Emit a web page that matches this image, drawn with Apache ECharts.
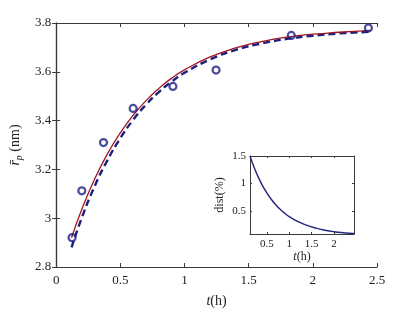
<!DOCTYPE html>
<html>
<head>
<meta charset="utf-8">
<script src="https://cdn.jsdelivr.net/npm/echarts@6/dist/echarts.min.js"></script>
<style>html,body{margin:0;padding:0;background:#fff}#c{width:417px;height:313px}</style>
</head>
<body>
<div id="c"></div>
<script>
// measured points
const measT = [0.124, 0.20, 0.369, 0.60, 0.91, 1.246, 1.832, 2.433];
const measR = [2.92, 3.112, 3.31, 3.45, 3.54, 3.607, 3.749, 3.78];
// model curves
const curveT = [0.12, 0.2, 0.3, 0.4, 0.5, 0.6, 0.7, 0.8, 0.9, 1.0, 1.2, 1.4, 1.6, 1.8, 2.0, 2.2, 2.45];
const redR  = [2.920, 3.037, 3.161, 3.264, 3.350, 3.422, 3.482, 3.532, 3.574, 3.608, 3.661, 3.698, 3.724, 3.742, 3.754, 3.762, 3.770];
const blueR = [2.880, 3.002, 3.131, 3.238, 3.328, 3.403, 3.465, 3.517, 3.560, 3.596, 3.651, 3.690, 3.716, 3.735, 3.748, 3.757, 3.764];
// inset: dist(%)
const distD = [1.50, 1.319, 1.124, 0.960, 0.822, 0.705, 0.607, 0.524, 0.454, 0.394, 0.300, 0.232, 0.182, 0.145, 0.118, 0.100, 0.085];
const insetXTicks = [0.5, 1, 1.5, 2];
const insetYTicks = [0.5, 1, 1.5];

const pair = (a, b) => a.map((v, i) => [v, b[i]]);
const AX = '#3a3a3a';
const FONT = 'Liberation Serif';
const lab = {color: '#222', fontFamily: FONT, fontSize: 13};
const labS = {color: '#222', fontFamily: FONT, fontSize: 11};

const chart = echarts.init(document.getElementById('c'), null, {renderer: 'canvas'});
chart.setOption({
  animation: false,
  backgroundColor: '#fff',
  grid: [
    {left: 54, right: 40, top: 23, bottom: 41, show: false},
    {left: 250, top: 156, width: 104, height: 78, show: true, backgroundColor: '#fff', borderWidth: 0, z: 5}
  ],
  xAxis: [
    {gridIndex: 0, type: 'value', min: 0, max: 2.5, interval: 0.5, position: 'bottom',
     axisLine: {lineStyle: {color: AX, width: 1.2}}, axisTick: {inside: true, length: 4, lineStyle: {color: AX}},
     axisLabel: Object.assign({margin: 7}, lab), splitLine: {show: false},
     name: '{i|t}{n|(h)}', nameLocation: 'middle', nameGap: 27,
     nameTextStyle: {rich: {i: {fontFamily: FONT, fontStyle: 'italic', fontSize: 14, color: '#222'}, n: {fontFamily: FONT, fontSize: 14, color: '#222'}}}},
    {gridIndex: 0, type: 'value', min: 0, max: 2.5, interval: 0.5, position: 'top',
     axisLine: {lineStyle: {color: AX, width: 1.2}}, axisTick: {inside: true, length: 4, lineStyle: {color: AX}},
     axisLabel: {show: false}, splitLine: {show: false}},
    {gridIndex: 1, type: 'value', min: 0.12, max: 2.45, position: 'bottom',
     axisLine: {lineStyle: {color: AX, width: 1}}, axisTick: {inside: true, length: 2, customValues: insetXTicks, lineStyle: {color: AX}},
     axisLabel: Object.assign({margin: 5, customValues: insetXTicks}, labS), splitLine: {show: false},
     name: '{i|t}{n|(h)}', nameLocation: 'middle', nameGap: 16,
     nameTextStyle: {rich: {i: {fontFamily: FONT, fontStyle: 'italic', fontSize: 12, color: '#222'}, n: {fontFamily: FONT, fontSize: 12, color: '#222'}}}, z: 6},
    {gridIndex: 1, type: 'value', min: 0.12, max: 2.45, position: 'top',
     axisLine: {lineStyle: {color: AX, width: 1}}, axisTick: {inside: true, length: 2, customValues: insetXTicks, lineStyle: {color: AX}},
     axisLabel: {show: false}, splitLine: {show: false}, z: 6}
  ],
  yAxis: [
    {gridIndex: 0, type: 'value', min: 2.8, max: 3.8, interval: 0.2, position: 'left',
     axisLine: {show: true, lineStyle: {color: AX, width: 1.2}}, axisTick: {show: true, inside: true, length: 4, lineStyle: {color: AX}},
     axisLabel: Object.assign({margin: 5}, lab), splitLine: {show: false},
     name: '{r|r\u0304}{p|p}{n| (nm)}', nameLocation: 'middle', nameGap: 32, nameRotate: 90,
     nameTextStyle: {rich: {
       r: {fontFamily: FONT, fontStyle: 'italic', fontSize: 14, color: '#222'},
       p: {fontFamily: FONT, fontStyle: 'italic', fontSize: 10, color: '#222', padding: [8, 0, 0, 0]},
       n: {fontFamily: FONT, fontSize: 14, color: '#222'}}}},
    {gridIndex: 0, type: 'value', min: 2.8, max: 3.8, interval: 0.2, position: 'right',
     axisLine: {show: true, lineStyle: {color: AX, width: 1.2}}, axisTick: {show: true, inside: true, length: 4, lineStyle: {color: AX}},
     axisLabel: {show: false}, splitLine: {show: false}},
    {gridIndex: 1, type: 'value', min: 0.076, max: 1.5, position: 'left',
     axisLine: {show: true, lineStyle: {color: AX, width: 1}}, axisTick: {show: true, inside: true, length: 2, customValues: insetYTicks, lineStyle: {color: AX}},
     axisLabel: Object.assign({margin: 4, customValues: insetYTicks}, labS), splitLine: {show: false},
     name: 'dist(%)', nameLocation: 'middle', nameGap: 24, nameRotate: 90,
     nameTextStyle: {fontFamily: FONT, fontSize: 12, color: '#222'}, z: 6},
    {gridIndex: 1, type: 'value', min: 0.076, max: 1.5, position: 'right',
     axisLine: {show: true, lineStyle: {color: AX, width: 1}}, axisTick: {show: true, inside: true, length: 2, customValues: insetYTicks, lineStyle: {color: AX}},
     axisLabel: {show: false}, splitLine: {show: false}, z: 6}
  ],
  series: [
    {type: 'line', xAxisIndex: 0, yAxisIndex: 0, data: pair(curveT, blueR), smooth: true, showSymbol: false,
     lineStyle: {color: '#1c1f82', width: 2.4, type: [7, 4]}, z: 2},
    {type: 'line', xAxisIndex: 0, yAxisIndex: 0, data: pair(curveT, redR), smooth: true, showSymbol: false,
     lineStyle: {color: '#9e1620', width: 1.3}, z: 3},
    {type: 'scatter', xAxisIndex: 0, yAxisIndex: 0, data: pair(measT, measR), symbol: 'circle', symbolSize: 7,
     itemStyle: {color: 'rgba(255,255,255,0)', borderColor: '#1c1f82', borderWidth: 2.2}, z: 4},
    {type: 'line', xAxisIndex: 2, yAxisIndex: 2, data: pair(curveT, distD), smooth: true, showSymbol: false,
     lineStyle: {color: '#23237e', width: 1.4}, z: 7}
  ]
});
</script>
</body>
</html>
